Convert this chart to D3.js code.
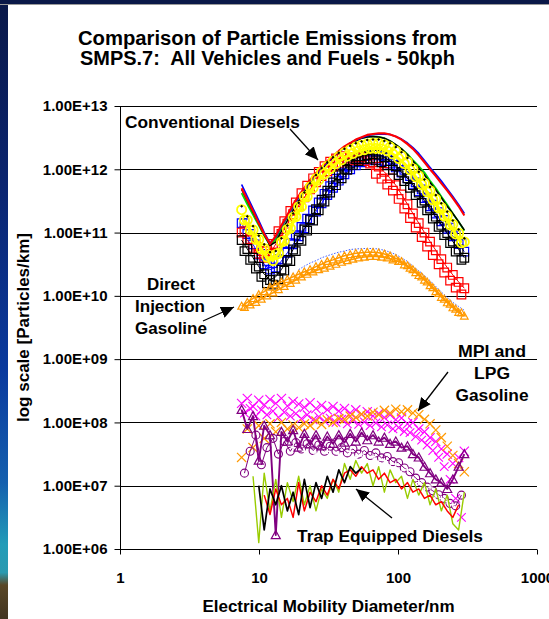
<!DOCTYPE html>
<html><head><meta charset="utf-8">
<script src="https://cdn.jsdelivr.net/npm/d3@7"></script>
<style>html,body{margin:0;padding:0;background:#fff;overflow:hidden}</style>
</head><body><svg id="chart" width="549" height="619"></svg>
<script>
// ---------- data ----------
// SMPS channel diameters (nm): grid A, and grid B sitting between the grid A channels
const diameters = [7.5, 8.24, 9.06, 9.96, 10.9, 12.0, 13.2, 14.5, 16.0, 17.6,
  19.3, 21.2, 23.3, 25.7, 28.2, 31.0, 34.1, 37.5, 41.2, 45.3,
  49.7, 54.7, 60.1, 66.1, 72.6, 79.8, 87.7, 96.4, 106, 117,
  128, 141, 155, 170, 187, 205, 226, 248, 273, 300];
const diametersB = [7.86, 8.64, 9.50, 10.4, 11.4, 12.6, 13.8, 15.2, 16.8, 18.4,
  20.2, 22.2, 24.5, 26.9, 29.6, 32.5, 35.8, 39.3, 43.2, 47.4,
  52.1, 57.3, 63.0, 69.3, 76.1, 83.7, 91.9, 101, 111, 122,
  134, 148, 162, 178, 196, 215, 237, 260, 286];

const yTickValues = [1e6, 1e7, 1e8, 1e9, 1e10, 1e11, 1e12, 1e13];
const yTickLabels = ["1.00E+06", "1.00E+07", "1.00E+08", "1.00E+09", "1.00E+10", "1.00E+11", "1.00E+12", "1.00E+13"];
const xTickValues = [1, 10, 100, 1000];
const xTickLabels = ["1", "10", "100", "1000"];

// Conventional diesels (grid A)
const dieselRedLine = [5.0e11, 3.3e11, 2.2e11, 1.4e11, 9.5e10, 6.6e10, 8.9e10, 1.3e11, 1.9e11, 2.8e11,
  3.8e11, 5.1e11, 6.8e11, 8.7e11, 1.1e12, 1.35e12, 1.6e12, 1.95e12, 2.3e12, 2.6e12,
  2.95e12, 3.2e12, 3.5e12, 3.6e12, 3.7e12, 3.7e12, 3.55e12, 3.3e12, 2.95e12, 2.5e12,
  2.1e12, 1.66e12, 1.29e12, 1.0e12, 7.8e11, 6.0e11, 4.6e11, 3.5e11, 2.6e11, 1.86e11];
const dieselBlueLine = [5.75e11, 3.7e11, 2.4e11, 1.55e11, 1.0e11, 6.8e10, 8.5e10, 1.26e11, 1.8e11, 2.6e11,
  3.6e11, 4.9e11, 6.5e11, 8.3e11, 1.05e12, 1.29e12, 1.58e12, 1.9e12, 2.24e12, 2.57e12,
  2.9e12, 3.16e12, 3.4e12, 3.55e12, 3.6e12, 3.6e12, 3.55e12, 3.3e12, 3.0e12, 2.6e12,
  2.2e12, 1.78e12, 1.38e12, 1.07e12, 8.3e11, 6.5e11, 4.9e11, 3.7e11, 2.75e11, 2.0e11];
const dieselGreenLine = [4.2e11, 2.8e11, 1.9e11, 1.3e11, 8.9e10, 6.3e10, 7.9e10, 1.2e11, 1.78e11, 2.57e11,
  3.6e11, 5.0e11, 6.6e11, 8.5e11, 1.07e12, 1.32e12, 1.58e12, 1.9e12, 2.24e12, 2.57e12,
  2.9e12, 3.1e12, 3.24e12, 3.3e12, 3.24e12, 3.1e12, 2.8e12, 2.45e12, 2.1e12, 1.74e12,
  1.4e12, 1.12e12, 8.9e11, 6.6e11, 5.0e11, 3.7e11, 2.75e11, 2.0e11, 1.48e11, 1.07e11];
const dieselBlackLine = [4.8e11, 3.16e11, 2.1e11, 1.38e11, 9.3e10, 6.3e10, 7.1e10, 1.05e11, 1.55e11, 2.24e11,
  3.16e11, 4.4e11, 5.9e11, 7.8e11, 1.0e12, 1.26e12, 1.55e12, 1.86e12, 2.2e12, 2.5e12,
  2.8e12, 3.1e12, 3.24e12, 3.3e12, 3.24e12, 3.1e12, 2.8e12, 2.45e12, 2.1e12, 1.7e12,
  1.35e12, 1.05e12, 8.1e11, 6.2e11, 4.7e11, 3.55e11, 2.6e11, 2.0e11, 1.48e11, 1.1e11];
const dieselYellowCircles = [2.3e11, 1.58e11, 1.1e11, 7.8e10, 5.6e10, 4.3e10, 4.5e10, 7.1e10, 1.12e11, 1.74e11,
  2.57e11, 3.7e11, 5.25e11, 7.1e11, 9.1e11, 1.12e12, 1.35e12, 1.58e12, 1.82e12, 2.04e12,
  2.24e12, 2.4e12, 2.5e12, 2.57e12, 2.57e12, 2.45e12, 2.24e12, 1.95e12, 1.62e12, 1.32e12,
  1.02e12, 7.9e11, 6.0e11, 4.6e11, 3.4e11, 2.5e11, 1.86e11, 1.35e11, 9.8e10, 7.1e10];
const dieselBlackDots = [2.6e11, 1.8e11, 1.26e11, 8.9e10, 6.5e10, 4.9e10, 5.1e10, 8.1e10, 1.29e11, 2.0e11,
  2.95e11, 4.3e11, 6.0e11, 8.1e11, 1.05e12, 1.29e12, 1.55e12, 1.82e12, 2.1e12, 2.34e12,
  2.57e12, 2.75e12, 2.9e12, 2.95e12, 2.95e12, 2.8e12, 2.57e12, 2.24e12, 1.86e12, 1.51e12,
  1.17e12, 9.1e11, 6.9e11, 5.25e11, 3.9e11, 2.9e11, 2.14e11, 1.55e11, 1.12e11, 8.1e10];
const dieselRedSquares = [1.0e11, 7.6e10, 5.75e10, 4.6e10, 4.0e10, 4.6e10, 6.6e10, 9.5e10, 1.38e11, 1.95e11,
  2.7e11, 3.6e11, 4.8e11, 6.2e11, 7.8e11, 9.3e11, 1.1e12, 1.26e12, 1.41e12, 1.51e12,
  1.55e12, 1.55e12, 1.45e12, 1.29e12, 1.1e12, 9.1e11, 7.2e11, 5.6e11, 4.0e11, 2.8e11,
  2.0e11, 1.41e11, 1.0e11, 7.2e10, 5.25e10, 3.8e10, 2.8e10, 2.14e10, 1.66e10, 1.32e10];
const dieselBlueSquares = [1.41e11, 9.5e10, 6.5e10, 4.5e10, 3.16e10, 2.6e10, 2.8e10, 3.55e10, 4.8e10, 6.5e10,
  8.7e10, 1.17e11, 1.58e11, 2.14e11, 2.9e11, 3.9e11, 5.1e11, 6.6e11, 8.3e11, 1.0e12,
  1.15e12, 1.29e12, 1.38e12, 1.41e12, 1.41e12, 1.35e12, 1.23e12, 1.07e12, 8.9e11, 7.2e11,
  5.75e11, 4.5e11, 3.5e11, 2.6e11, 2.0e11, 1.51e11, 1.15e11, 8.7e10, 6.6e10, 5.0e10];
const dieselBlackSquares = [7.6e10, 5.5e10, 4.0e10, 2.9e10, 2.2e10, 1.78e10, 2.0e10, 2.6e10, 3.7e10, 5.4e10,
  7.8e10, 1.12e11, 1.62e11, 2.34e11, 3.3e11, 4.6e11, 6.2e11, 8.1e11, 1.02e12, 1.23e12,
  1.45e12, 1.62e12, 1.66e12, 1.74e12, 1.7e12, 1.55e12, 1.35e12, 1.12e12, 9.1e11, 7.2e11,
  5.6e11, 4.3e11, 3.2e11, 2.4e11, 1.78e11, 1.32e11, 9.8e10, 7.2e10, 5.4e10, 4.0e10];

// Conventional diesels, repeat runs (grid B)
const dieselRedSquares2 = [1.05e11, 7.9e10, 6.2e10, 5.1e10, 5.1e10, 6.6e10, 1.05e11, 1.51e11, 2.2e11, 3.0e11,
  4.2e11, 5.5e11, 7.2e11, 9.1e11, 1.12e12, 1.32e12, 1.48e12, 1.62e12, 1.32e12, 1.38e12,
  1.38e12, 1.35e12, 1.23e12, 8.5e11, 7.1e11, 5.75e11, 4.6e11, 3.4e11, 2.4e11, 1.7e11,
  1.2e11, 8.5e10, 6.0e10, 4.4e10, 3.16e10, 2.34e10, 1.74e10, 1.35e10, 1.05e10];
const dieselBlackSquares2 = [5.1e10, 3.7e10, 2.7e10, 2.0e10, 1.58e10, 1.51e10, 1.82e10, 2.5e10, 3.55e10, 5.1e10,
  7.4e10, 1.07e11, 1.55e11, 2.24e11, 3.1e11, 4.3e11, 5.6e11, 7.2e11, 9.8e11, 1.17e12,
  1.35e12, 1.45e12, 1.48e12, 1.38e12, 1.29e12, 1.15e12, 9.8e11, 8.1e11, 6.5e11, 5.1e11,
  3.9e11, 2.95e11, 2.24e11, 1.66e11, 1.23e11, 9.1e10, 6.8e10, 5.0e10, 3.7e10];
const dieselBlueSquares2 = [1.41e11, 9.5e10, 6.5e10, 4.6e10, 3.5e10, 3.3e10, 3.8e10, 5.0e10, 6.8e10, 9.1e10,
  1.23e11, 1.66e11, 2.24e11, 3.0e11, 4.1e11, 5.4e11, 7.1e11, 8.9e11, 1.1e12, 1.29e12,
  1.48e12, 1.62e12, 1.7e12, 1.7e12, 1.66e12, 1.55e12, 1.38e12, 1.17e12, 9.8e11, 7.8e11,
  6.2e11, 4.8e11, 3.6e11, 2.75e11, 2.1e11, 1.58e11, 1.2e11, 9.1e10, 6.9e10];
const dieselYellowCircles2 = [1.58e11, 1.1e11, 7.8e10, 5.5e10, 4.1e10, 3.6e10, 4.7e10, 7.4e10, 1.17e11, 1.78e11,
  2.57e11, 3.7e11, 5.1e11, 6.8e11, 8.5e11, 1.02e12, 1.23e12, 1.41e12, 1.62e12, 1.78e12,
  1.95e12, 2.04e12, 2.14e12, 2.14e12, 2.1e12, 1.95e12, 1.74e12, 1.48e12, 1.23e12, 9.8e11,
  7.6e11, 5.75e11, 4.4e11, 3.3e11, 2.45e11, 1.82e11, 1.32e11, 9.5e10, 6.9e10];

// Direct injection gasoline
const diGasRunA = [6.9e9, 7.9e9, 9.1e9, 1.05e10, 1.17e10, 1.38e10, 1.51e10, 1.66e10, 1.82e10, 2.0e10,
  2.2e10, 2.4e10, 2.6e10, 2.9e10, 3.16e10, 3.5e10, 3.7e10, 4.0e10, 4.3e10, 4.5e10,
  4.7e10, 4.8e10, 4.9e10, 4.9e10, 4.8e10, 4.6e10, 4.3e10, 3.9e10, 3.5e10, 3.0e10,
  2.6e10, 2.1e10, 1.78e10, 1.45e10, 1.17e10, 9.5e9, 7.8e9, 6.5e9, 5.5e9, 4.8e9];
const diGasRunB = [6.6e9, 7.2e9, 7.9e9, 8.9e9, 1.0e10, 1.12e10, 1.26e10, 1.41e10, 1.58e10, 1.78e10,
  2.0e10, 2.2e10, 2.4e10, 2.6e10, 2.75e10, 2.95e10, 3.16e10, 3.4e10, 3.6e10, 3.8e10,
  4.0e10, 4.1e10, 4.2e10, 4.2e10, 4.1e10, 4.0e10, 3.7e10, 3.5e10, 3.1e10, 2.75e10,
  2.34e10, 2.0e10, 1.66e10, 1.35e10, 1.1e10, 8.9e9, 7.4e9, 6.2e9, 5.4e9];
const diGasBlueDotted = [null, null, null, null, null, null, null, null, null, null,
  2.6e10, 2.95e10, 3.3e10, 3.6e10, 4.0e10, 4.3e10, 4.6e10, 4.9e10, 5.1e10, 5.4e10,
  5.5e10, 5.6e10, 5.6e10, 5.6e10, 5.5e10, 5.25e10, 4.9e10, 4.5e10, 4.0e10, 3.5e10,
  2.95e10, 2.5e10, 2.1e10, 1.74e10, 1.41e10, 1.15e10, 9.5e9, 7.9e9, 6.8e9, 5.9e9];

// MPI and LPG gasoline
const mpiMagentaX1 = [2.0e8, 2.4e8, 1.78e8, 2.24e8, 1.9e8, 2.3e8, 2.0e8, 2.4e8, 1.82e8, 2.14e8,
  1.95e8, 1.74e8, 2.04e8, 1.66e8, 1.86e8, 1.58e8, 1.78e8, 1.51e8, 1.66e8, 1.41e8,
  1.58e8, 1.35e8, 1.48e8, 1.26e8, 1.38e8, 1.2e8, 1.32e8, 1.1e8, 1.17e8, 9.5e7,
  1.0e8, 7.9e7, 7.1e7, 5.75e7, 5.0e7, 3.8e7, 3.16e7, 2.24e7, 2.8e7, 3.5e7];
const mpiMagentaX2 = [1.41e8, 1.66e8, 1.26e8, 1.58e8, 1.32e8, 1.51e8, 1.2e8, 1.45e8, 1.26e8, 1.38e8,
  1.15e8, 1.32e8, 1.1e8, 1.23e8, 1.05e8, 1.17e8, 1.0e8, 1.12e8, 9.5e7, 1.07e8,
  9.3e7, 1.02e8, 8.9e7, 9.8e7, 8.5e7, 9.1e7, 7.9e7, 8.3e7, 7.2e7, 6.9e7,
  6.0e7, 5.25e7, 4.4e7, 3.6e7, 2.8e7, 2.0e7, 1.26e7, 6.3e6, 3.16e6];
const mpiOrangeX = [2.8e7, 7.9e7, 4.0e7, 8.9e7, 5.6e7, 9.5e7, 7.1e7, 1.0e8, 7.9e7, 9.1e7,
  8.3e7, 9.5e7, 8.9e7, 1.05e8, 9.3e7, 1.1e8, 1.0e8, 1.15e8, 1.12e8, 1.26e8,
  1.2e8, 1.35e8, 1.26e8, 1.45e8, 1.32e8, 1.55e8, 1.41e8, 1.62e8, 1.48e8, 1.58e8,
  1.41e8, 1.32e8, 1.12e8, 9.5e7, 7.6e7, 5.75e7, 4.2e7, 3.0e7, 2.24e7, 1.66e7];
const lpgPurpleTriangles = [1.58e8, 7.9e7, 1.26e8, 2.5e7, 8.9e7, 6.3e7, 1.66e6, 7.1e7, 5.0e7, 7.6e7,
  4.0e7, 6.6e7, 4.5e7, 6.3e7, 4.2e7, 6.0e7, 4.6e7, 6.3e7, 4.8e7, 6.6e7,
  5.0e7, 6.9e7, 5.25e7, 6.3e7, 5.0e7, 5.75e7, 4.6e7, 5.0e7, 4.0e7, 4.2e7,
  3.16e7, 2.8e7, 2.0e7, 1.58e7, 1.26e7, 1.12e7, 8.9e6, 1.26e7, 2.0e7, 3.16e7];
const lpgPurpleCircles = [1.58e7, 3.5e7, 6.3e7, 2.14e7, 4.0e7, 5.6e7, 3.16e7, 5.0e7, 3.5e7, 4.8e7,
  3.8e7, 4.6e7, 3.6e7, 4.4e7, 3.5e7, 4.2e7, 3.5e7, 4.0e7, 3.3e7, 3.8e7,
  3.16e7, 3.6e7, 3.0e7, 3.3e7, 2.75e7, 2.9e7, 2.4e7, 2.3e7, 1.9e7, 1.66e7,
  1.32e7, 1.12e7, 9.5e6, 8.3e6, 7.2e6, 6.3e6, 5.25e6, 4.8e6, 7.1e6];
const lpgWhitePlus = [null, null, null, null, null, null, null, null, 2.8e7, 4.0e7,
  2.5e7, 3.5e7, 2.24e7, 3.16e7, 2.5e7, 3.5e7, 2.8e7, 3.16e7, 2.5e7, 3.5e7,
  2.8e7, 3.16e7, 2.4e7, 2.9e7, 2.3e7, 2.5e7, 2.0e7, 2.2e7, 1.58e7, 1.78e7,
  1.26e7, 1.12e7, 8.9e6, 9.5e6, 7.1e6, 6.3e6, 5.6e6, 5.0e6, null, null];

// Trap equipped diesels
const trapGreenLine = [null, null, 1.41e7, 1.26e6, 1.58e7, 4.0e6, 1.26e7, 3.16e6, 1.12e7, 5.6e6,
  1.41e7, 5.0e6, 1.0e7, 4.0e6, 8.9e6, 6.3e6, 1.26e7, 7.9e6, 2.24e7, 1.26e7,
  2.5e7, 1.58e7, 2.24e7, 1.0e7, 2.0e7, 7.9e6, 1.78e7, 1.12e7, 1.41e7, 6.3e6,
  1.26e7, 7.1e6, 1.12e7, 5.0e6, 8.9e6, 4.0e6, 7.1e6, 2.5e6, 2.0e6, 7.9e6];
const trapRedLine = [null, null, null, null, 7.1e6, 3.5e6, 8.9e6, 5.0e6, 6.3e6, 3.16e6,
  1.12e7, 4.0e6, 7.9e6, 5.6e6, 1.0e7, 7.1e6, 1.26e7, 8.9e6, 1.58e7, 1.78e7,
  1.41e7, 2.0e7, 1.58e7, 1.78e7, 1.26e7, 1.58e7, 1.12e7, 1.26e7, 8.9e6, 1.12e7,
  7.9e6, 8.9e6, 6.3e6, 7.1e6, 5.0e6, 5.6e6, 4.0e6, 3.16e6, 5.0e6, null];
const trapBlackLine = [null, null, null, 1.0e7, 2.0e6, 8.9e6, 5.0e6, 1.0e7, 4.0e6, 7.9e6,
  3.5e6, 1.26e7, 4.5e6, 1.12e7, 6.3e6, 1.41e7, 7.9e6, 1.78e7, 1.12e7, 2.0e7,
  1.58e7, 1.9e7, null, null, null, null, null, null, null, null,
  null, null, null, null, null, null, null, null, null, null];

const titleLines = ["Comparison of Particle Emissions from", "SMPS.7:  All Vehicles and Fuels - 50kph"];
const xTitle = "Electrical Mobility Diameter/nm";
const yTitle = "log scale [Particles/km]";
const noteTexts = ["Conventional Diesels", "Direct", "Injection", "Gasoline", "MPI and", "LPG", "Gasoline", "Trap Equipped Diesels"];

// ---------- drawing ----------
const W = 549, H = 619;
const P = {left: 120, right: 537, top: 106, bottom: 549};
const FONT = "'Liberation Sans', Arial, Helvetica, sans-serif";
const svg = d3.select('#chart');

svg.append('rect').attr('width', W).attr('height', H).attr('fill', '#fff');
const defs = svg.append('defs');
const grad = defs.append('linearGradient').attr('id', 'strip')
  .attr('x1', 0).attr('y1', 0).attr('x2', 0).attr('y2', 1);
[[0, '#0a1848'], [0.3, '#0b2570'], [0.6, '#0a3a9e'], [0.78, '#1560ae'], [0.88, '#229cb8'],
 [0.925, '#2a9ab0'], [0.945, '#5a4827'], [1, '#433420']]
  .forEach(([o, c]) => grad.append('stop').attr('offset', o).attr('stop-color', c));
svg.append('rect').attr('x', 0).attr('y', 0).attr('width', 8).attr('height', H).attr('fill', 'url(#strip)');
svg.append('rect').attr('x', 0).attr('y', 0).attr('width', W).attr('height', 4).attr('fill', '#0a1848');
svg.append('rect').attr('x', 0).attr('y', 4).attr('width', W).attr('height', 1).attr('fill', '#9a9a9a');

defs.append('marker').attr('id', 'arrow').attr('markerUnits', 'userSpaceOnUse')
  .attr('markerWidth', 14).attr('markerHeight', 12).attr('refX', 13).attr('refY', 6)
  .attr('orient', 'auto')
  .append('path').attr('d', 'M0,0L13,6L0,12Z').attr('fill', '#000');

const x = d3.scaleLog().domain([1, 1000]).range([P.left, P.right]);
const y = d3.scaleLog().domain([1e6, 1e13]).range([P.bottom, P.top]);

// gridlines
svg.append('g').selectAll('line').data(yTickValues).join('line')
  .attr('x1', P.left).attr('x2', P.right)
  .attr('y1', d => Math.round(y(d)) + 0.5).attr('y2', d => Math.round(y(d)) + 0.5)
  .attr('stroke', '#000').attr('stroke-width', 1);

// axes
const yAxis = svg.append('g').attr('transform', `translate(${P.left + 0.5},0)`)
  .call(d3.axisLeft(y).tickValues(yTickValues).tickSize(6).tickPadding(7)
    .tickFormat((d, i) => yTickLabels[i]));
const xAxis = svg.append('g').attr('transform', `translate(0,${Math.round(P.bottom) + 0.5})`)
  .call(d3.axisBottom(x).tickValues(xTickValues).tickSize(5).tickPadding(18)
    .tickFormat((d, i) => xTickLabels[i]));
[yAxis, xAxis].forEach(g => {
  g.selectAll('path.domain').attr('stroke', '#000');
  g.selectAll('.tick line').attr('stroke', '#000');
  g.selectAll('text').attr('font-family', FONT).attr('font-weight', 'bold')
    .attr('font-size', 15).attr('fill', '#000');
});
yAxis.select('path.domain').attr('d', `M0,${y(1e13)}V${y(1e6)}`);
xAxis.select('path.domain').attr('d', `M${x(1)},0H${x(1000)}`);

// marker shapes
const shapes = {
  square: h => `M${-h},${-h}H${h}V${h}H${-h}Z`,
  circle: h => `M${-h},0A${h},${h} 0 1,0 ${h},0A${h},${h} 0 1,0 ${-h},0Z`,
  triangle: h => `M0,${-h}L${h},${h * 0.8}L${-h},${h * 0.8}Z`,
  cross: h => `M${-h},${-h}L${h},${h}M${-h},${h}L${h},${-h}`,
  plus: h => `M${-h},0H${h}M0,${-h}V${h}`
};

const series = [
  {values: dieselBlueSquares, grid: diameters, color: '#0000ff', marker: 'square', size: 4.3, sw: 1.2, line: 1},
  {values: dieselBlueSquares2, grid: diametersB, color: '#0000ff', marker: 'square', size: 4.3, sw: 1.2},
  {values: dieselRedSquares, grid: diameters, color: '#ff0000', marker: 'square', size: 4.3, sw: 1.2, line: 1},
  {values: dieselRedSquares2, grid: diametersB, color: '#ff0000', marker: 'square', size: 4.3, sw: 1.2},
  {values: dieselBlackSquares, grid: diameters, color: '#000000', marker: 'square', size: 4.3, sw: 1.2, line: 1},
  {values: dieselBlackSquares2, grid: diametersB, color: '#000000', marker: 'square', size: 4.3, sw: 1.2},
  {values: dieselGreenLine, grid: diameters, color: '#00e000', line: 1.8},
  {values: dieselBlackLine, grid: diameters, color: '#000000', line: 1.5},
  {values: dieselBlueLine, grid: diameters, color: '#0000ff', line: 1.7},
  {values: dieselRedLine, grid: diameters, color: '#ff0000', line: 2.1},
  {values: dieselYellowCircles2, grid: diametersB, color: '#ffff00', marker: 'circle', size: 4.6, sw: 1.8, line: 3},
  {values: dieselYellowCircles, grid: diameters, color: '#ffff00', marker: 'circle', size: 4.6, sw: 1.8},
  {values: dieselBlackDots, grid: diameters, color: '#000000', marker: 'circle', size: 0.8, sw: 1},
  {values: diGasBlueDotted, grid: diameters, color: '#3050ff', line: 0.9, dash: '1.5,1.5'},
  {values: diGasRunB, grid: diametersB, color: '#ff9900', marker: 'triangle', size: 3.8, sw: 1.2, line: 1.5},
  {values: diGasRunA, grid: diameters, color: '#ff9900', marker: 'triangle', size: 3.8, sw: 1.2, line: 1.5},
  {values: mpiMagentaX2, grid: diametersB, color: '#ff00ff', marker: 'cross', size: 4.3, sw: 1.1},
  {values: mpiMagentaX1, grid: diameters, color: '#ff00ff', marker: 'cross', size: 4.6, sw: 1.1},
  {values: mpiOrangeX, grid: diameters, color: '#ff9900', marker: 'cross', size: 4.6, sw: 1.2},
  {values: lpgPurpleCircles, grid: diametersB, color: '#800080', marker: 'circle', size: 4, sw: 1.1, line: 1},
  {values: lpgPurpleTriangles, grid: diameters, color: '#800080', marker: 'triangle', size: 4.5, sw: 1.2, line: 1.9},
  {values: lpgWhitePlus, grid: diameters, color: '#ffffff', marker: 'plus', size: 2.6, sw: 1.4},
  {values: trapGreenLine, grid: diameters, color: '#99cc00', line: 1.4},
  {values: trapRedLine, grid: diameters, color: '#ff0000', line: 1.5},
  {values: trapBlackLine, grid: diameters, color: '#000000', line: 1.7}
];

const plotG = svg.append('g');
series.forEach(s => {
  const pts = s.values.map((v, i) => ({d: s.grid[i], v}));
  const g = plotG.append('g');
  if (s.line) {
    g.append('path')
      .attr('d', d3.line().defined(p => p.v != null).x(p => x(p.d)).y(p => y(p.v))(pts))
      .attr('fill', 'none').attr('stroke', s.color).attr('stroke-width', s.line)
      .attr('stroke-dasharray', s.dash || null).attr('stroke-linejoin', 'round');
  }
  if (s.marker) {
    g.selectAll('path.m').data(pts.filter(p => p.v != null)).join('path')
      .attr('class', 'm')
      .attr('transform', p => `translate(${x(p.d)},${y(p.v)})`)
      .attr('d', shapes[s.marker](s.size))
      .attr('fill', s.size < 1.5 ? s.color : 'none')
      .attr('stroke', s.color).attr('stroke-width', s.sw);
  }
});

// titles
const tg = svg.append('g').attr('font-family', FONT).attr('font-weight', 'bold').attr('fill', '#000');
tg.append('text').attr('x', 267.5).attr('y', 45).attr('text-anchor', 'middle').attr('font-size', 19.5)
  .attr('textLength', 379).attr('lengthAdjust', 'spacingAndGlyphs').text(titleLines[0]);
tg.append('text').attr('x', 267.5).attr('y', 65).attr('text-anchor', 'middle').attr('font-size', 19.5)
  .style('white-space', 'pre')
  .attr('textLength', 375).attr('lengthAdjust', 'spacingAndGlyphs').text(titleLines[1]);
tg.append('text').attr('x', (P.left + P.right) / 2).attr('y', 612).attr('text-anchor', 'middle')
  .attr('font-size', 17).text(xTitle);
tg.append('text').attr('transform', `translate(29,${(P.top + P.bottom) / 2}) rotate(-90)`)
  .attr('text-anchor', 'middle').attr('font-size', 17).text(yTitle);

// annotations
const notePos = [
  {x: 125, y: 128, len: 175, anchor: 'start'},
  {x: 171, y: 290, len: 48, anchor: 'middle'},
  {x: 170, y: 312, len: 70, anchor: 'middle'},
  {x: 171, y: 334, len: 72, anchor: 'middle'},
  {x: 492, y: 357, len: 68, anchor: 'middle'},
  {x: 492, y: 379, len: 36, anchor: 'middle'},
  {x: 492, y: 401, len: 73, anchor: 'middle'},
  {x: 297, y: 542, len: 186, anchor: 'start'}
];
notePos.forEach((n, i) => tg.append('text').attr('x', n.x).attr('y', n.y).attr('text-anchor', n.anchor)
  .attr('font-size', 16).attr('textLength', n.len).attr('lengthAdjust', 'spacingAndGlyphs').text(noteTexts[i]));

const arrows = [[290, 129, 318, 160], [203, 321, 234, 307], [448, 372, 418, 411], [392, 518, 356, 489]];
svg.append('g').selectAll('line').data(arrows).join('line')
  .attr('x1', a => a[0]).attr('y1', a => a[1]).attr('x2', a => a[2]).attr('y2', a => a[3])
  .attr('stroke', '#000').attr('stroke-width', 1.3).attr('marker-end', 'url(#arrow)');
</script>
</body></html>
